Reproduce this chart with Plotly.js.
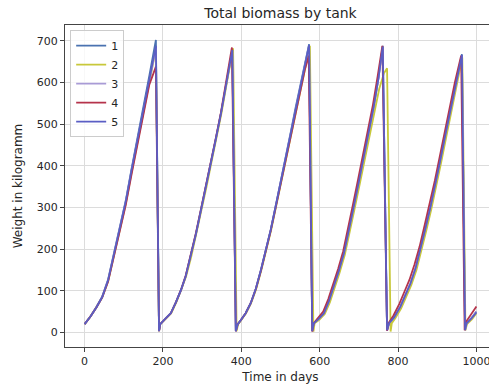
<!DOCTYPE html>
<html>
<head>
<meta charset="utf-8">
<script src="https://cdn.plot.ly/plotly-3.0.1.min.js"></script>
<style>
html,body{margin:0;padding:0;background:#fff;overflow:hidden;width:489px;height:385px;}
#chart{width:500px;height:385px;}
</style>
</head>
<body>
<div id="chart"></div>
<script>
// Shared day grid (tanks 1, 3, 5)
const days = [0,15,30,45,60,75,90,105,120,135,150,165,182,190,193,
  205,220,233,246,258,271,284,297,310,322,335,348,362,377,386,391,
  399,411,424,437,450,462,475,487,500,513,526,538,551,562,573,581,585,
  597,611,624,636,649,662,675,687,700,713,726,738,750,761,772,777,
  790,806,819,832,845,857,870,883,896,908,921,934,947,963,971,975,988,1000];
// Tank 2 lags slightly
const days2 = [0,15,30,45,60,75,90,105,120,135,150,165,182,190,193,
  206,221,234,247,259,272,285,298,311,323,336,349,363,379,388,392,
  400,412,425,438,451,463,476,488,501,514,527,539,552,563,575,584,587,
  599,613,626,638,651,664,677,689,702,715,728,740,752,764,772,781,784,
  793,808,821,834,847,859,872,885,898,910,923,936,949,964,972,976,989,1000];
// Tank 4 slightly leads later on
const days4 = [0,15,30,45,60,75,90,105,120,135,150,165,182,190,193,
  205,220,233,246,258,271,284,297,310,322,335,348,362,376,386,391,
  399,411,424,437,450,462,475,487,500,513,526,538,551,562,572,581,585,
  595,609,622,634,647,660,673,685,698,711,724,736,748,760,772,777,
  788,803,816,829,842,855,868,881,894,906,919,932,945,961,970,974,987,1000];

const tank1 = [20,38,61,86,127,192,250,316,393,465,538,615,702,4,20,
  32,46,72,101,134,181,235,293,349,405,464,525,599,676,4,20,
  30,46,70,104,149,194,246,300,358,419,480,537,592,642,692,4,22,
  32,46,76,110,148,190,246,303,363,423,483,543,611,688,6,22,
  36,62,90,118,154,197,249,301,357,413,474,533,597,668,6,22,35,50];
const tank2 = [20,38,60,84,122,186,244,308,384,454,526,602,680,3,20,
  32,46,72,102,134,181,235,293,349,405,464,525,599,682,3,20,
  30,46,70,104,149,194,245,299,357,417,477,534,589,639,688,2,22,
  30,44,72,106,144,186,240,296,355,414,472,530,585,622,634,2,22,
  34,58,86,114,150,193,244,296,352,408,469,528,590,660,5,20,32,46];
const tank3 = [20,38,60,85,125,190,248,312,388,458,530,606,682,3,20,
  32,46,72,102,135,182,236,294,350,406,465,526,600,678,3,20,
  30,46,70,105,150,195,246,300,358,418,478,535,590,640,688,3,22,
  32,46,76,110,148,190,245,302,362,422,482,542,610,684,4,22,
  36,62,90,118,155,198,250,302,358,414,475,534,596,664,5,22,35,50];
const tank4 = [20,38,60,84,122,186,243,306,380,450,520,594,638,3,20,
  32,46,72,102,136,184,238,296,352,408,467,528,603,684,3,20,
  30,46,70,104,148,193,244,297,354,413,472,528,582,630,664,2,22,
  34,50,80,114,152,195,250,307,367,427,487,547,615,688,4,24,
  40,68,97,126,163,206,258,310,365,420,480,538,600,664,5,26,44,62];
const tank5 = [20,38,60,85,125,190,248,314,390,460,530,606,688,3,20,
  32,46,72,102,135,182,236,294,350,406,465,526,600,678,3,20,
  30,46,70,105,150,195,246,300,358,418,478,535,590,640,690,3,22,
  32,46,76,110,148,190,245,302,362,422,482,542,610,686,5,22,
  36,62,90,118,155,198,250,302,358,414,475,534,598,666,6,22,34,48];

const names = ["1","2","3","4","5"];
const colors = ["#4a72b0","#c8c83a","#a99bd6","#b5334b","#5a5ec4"];
const xs = [days, days2, days, days4, days];
const ys = [tank1, tank2, tank3, tank4, tank5];

const traces = names.map((n,i)=>({
  x: xs[i], y: ys[i], name: n, type: "scatter", mode: "lines",
  line: {color: colors[i], width: 1.8}
}));

const font = {family: "DejaVu Sans, sans-serif", color: "#262626"};
const layout = {
  width: 500, height: 385,
  margin: {l: 65, r: 4, t: 25, b: 38},
  paper_bgcolor: "#fff", plot_bgcolor: "#fff",
  font: Object.assign({size: 11}, font),
  title: {text: "Total biomass by tank", font: Object.assign({size: 14}, font),
          x: 0.5, xref: "paper", y: 1 - 13/385, yanchor: "middle"},
  xaxis: {range: [-50, 1050], tickvals: [0,200,400,600,800,1000], ticktext: ["0","200","400","600","800","1000"],
          showline: true, mirror: true, linecolor: "#444", linewidth: 1,
          ticks: "outside", ticklen: 4, tickcolor: "#444",
          gridcolor: "#dcdcdc", gridwidth: 1, zeroline: false,
          tickfont: Object.assign({size: 11}, font),
          title: {text: "Time in days", font: Object.assign({size: 12}, font), standoff: 5}},
  yaxis: {range: [-35, 738], tickvals: [0,100,200,300,400,500,600,700],
          showline: true, mirror: true, linecolor: "#444", linewidth: 1,
          ticks: "outside", ticklen: 4, tickcolor: "#444",
          gridcolor: "#dcdcdc", gridwidth: 1, zeroline: false,
          tickfont: Object.assign({size: 11}, font),
          title: {text: "Weight in kilogramm", font: Object.assign({size: 12}, font), standoff: 11}},
  legend: {x: 0.012, y: 0.984, xanchor: "left", yanchor: "top",
           bgcolor: "rgba(255,255,255,0.8)", bordercolor: "#cccccc", borderwidth: 1,
           font: Object.assign({size: 11}, font), tracegroupgap: 0},
  showlegend: true
};

Plotly.newPlot("chart", traces, layout, {displayModeBar: false, staticPlot: true});
</script>
</body>
</html>
